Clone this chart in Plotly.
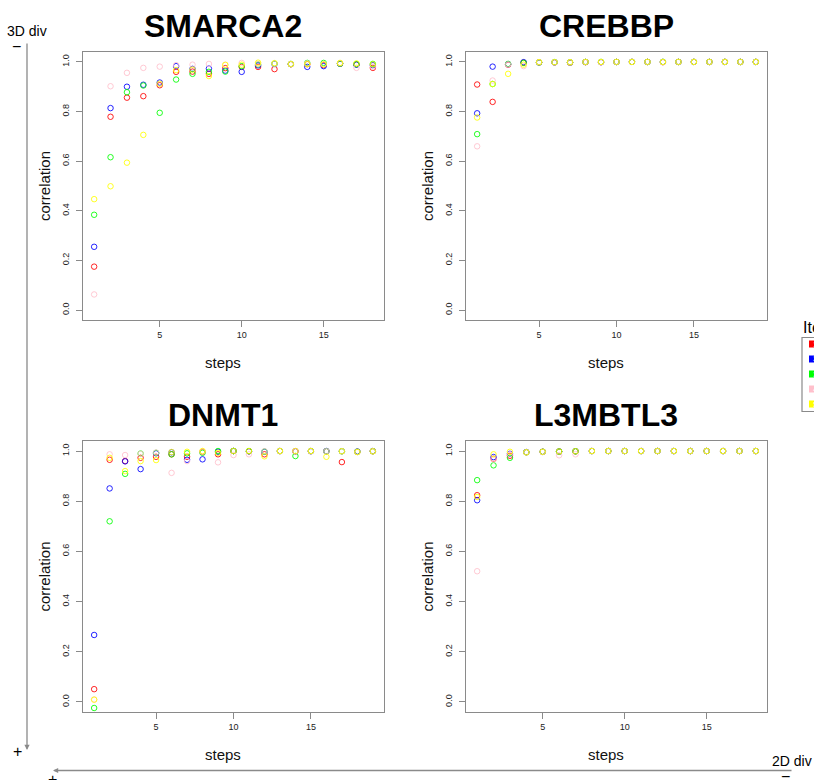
import plotly.graph_objects as go

W, H = 814, 780

genes = ["SMARCA2", "CREBBP", "DNMT1", "L3MBTL3"]
iterations = ["1", "2", "3", "4", "5"]
colors = ["#FF0000", "#0000FF", "#00FF00", "#FFC0CB", "#FFFF00"]

steps_smarca2 = list(range(1, 19))
steps_crebbp = list(range(1, 20))
steps_dnmt1 = list(range(1, 20))
steps_l3mbtl3 = list(range(1, 19))

smarca2_it1 = [0.175, 0.779, 0.856, 0.862, 0.906, 0.960, 0.961, 0.952, 0.975, 0.980, 0.980, 0.971, 0.991, 0.991, 0.987, 0.993, 0.990, 0.976]
smarca2_it2 = [0.255, 0.814, 0.900, 0.908, 0.917, 0.983, 0.972, 0.973, 0.965, 0.960, 0.986, 0.992, 0.991, 0.980, 0.983, 0.993, 0.989, 0.987]
smarca2_it3 = [0.384, 0.616, 0.878, 0.905, 0.795, 0.929, 0.952, 0.960, 0.961, 0.983, 0.990, 0.993, 0.992, 0.996, 0.996, 0.993, 0.991, 0.992]
smarca2_it4 = [0.063, 0.902, 0.956, 0.976, 0.981, 0.987, 0.989, 0.992, 0.989, 0.996, 0.992, 0.993, 0.992, 0.994, 0.991, 0.995, 0.976, 0.981]
smarca2_it5 = [0.447, 0.499, 0.594, 0.706, 0.912, 0.967, 0.969, 0.943, 0.988, 0.989, 0.997, 0.995, 0.991, 0.991, 0.990, 0.996, 0.994, 0.990]

crebbp_it1 = [0.909, 0.839, 0.989, 0.997, 0.998, 0.998, 0.997, 0.999, 0.999, 1.000, 1.000, 1.000, 0.999, 1.000, 1.000, 1.000, 1.000, 1.000, 1.000]
crebbp_it2 = [0.793, 0.981, 0.991, 0.999, 0.998, 0.998, 0.998, 1.000, 0.999, 1.000, 1.000, 1.000, 1.000, 1.000, 1.000, 1.000, 1.000, 1.000, 1.000]
crebbp_it3 = [0.709, 0.911, 0.992, 0.996, 0.998, 0.999, 0.998, 1.000, 1.000, 1.000, 1.000, 1.000, 1.000, 1.000, 1.000, 1.000, 1.000, 1.000, 1.000]
crebbp_it4 = [0.660, 0.925, 0.990, 0.983, 0.999, 0.998, 0.998, 1.000, 0.999, 1.000, 1.000, 1.000, 0.999, 1.000, 1.000, 1.000, 1.000, 1.000, 1.000]
crebbp_it5 = [0.776, 0.911, 0.952, 0.989, 0.999, 0.999, 0.999, 1.000, 1.000, 1.000, 1.000, 1.000, 1.000, 1.000, 1.000, 1.000, 1.000, 1.000, 1.000]

dnmt1_it1 = [0.051, 0.965, 0.960, 0.973, 0.977, 0.987, 0.977, 0.997, 0.987, 1.000, 0.999, 0.987, 1.000, 0.999, 1.000, 0.999, 0.956, 0.997, 0.999]
dnmt1_it2 = [0.267, 0.851, 0.959, 0.928, 0.991, 0.995, 0.965, 0.967, 0.997, 1.000, 0.999, 0.997, 1.000, 0.999, 0.999, 1.000, 0.999, 0.998, 1.000]
dnmt1_it3 = [-0.024, 0.720, 0.909, 0.990, 0.993, 0.987, 0.991, 0.993, 1.000, 1.000, 1.000, 0.998, 1.000, 0.980, 1.000, 0.999, 0.999, 0.997, 0.999]
dnmt1_it4 = [0.010, 0.987, 0.984, 0.989, 0.994, 0.913, 0.960, 0.998, 0.955, 0.984, 0.987, 0.999, 1.000, 0.999, 0.999, 0.999, 0.999, 0.996, 0.999]
dnmt1_it5 = [0.009, 0.973, 0.920, 0.960, 0.964, 0.996, 0.997, 1.000, 0.993, 1.000, 1.000, 0.979, 1.000, 1.000, 1.000, 0.977, 0.999, 0.996, 0.999]

l3mbtl3_it1 = [0.824, 0.969, 0.981, 0.995, 0.997, 0.998, 0.999, 1.000, 1.000, 1.000, 1.000, 1.000, 1.000, 1.000, 1.000, 1.000, 1.000, 1.000]
l3mbtl3_it2 = [0.804, 0.976, 0.989, 0.996, 0.997, 0.998, 0.999, 1.000, 1.000, 1.000, 1.000, 1.000, 1.000, 1.000, 1.000, 1.000, 1.000, 1.000]
l3mbtl3_it3 = [0.884, 0.943, 0.973, 0.995, 0.997, 0.998, 0.999, 1.000, 1.000, 1.000, 1.000, 1.000, 1.000, 1.000, 1.000, 1.000, 1.000, 1.000]
l3mbtl3_it4 = [0.521, 0.967, 0.987, 0.995, 0.996, 0.983, 0.987, 1.000, 1.000, 1.000, 1.000, 1.000, 1.000, 1.000, 1.000, 1.000, 1.000, 1.000]
l3mbtl3_it5 = [0.817, 0.987, 0.997, 0.995, 0.997, 0.998, 0.999, 1.000, 1.000, 1.000, 1.000, 1.000, 1.000, 1.000, 1.000, 1.000, 1.000, 1.000]

y_ticks = [0.0, 0.2, 0.4, 0.6, 0.8, 1.0]
x_ticks = [5, 10, 15]

panels = [
    (steps_smarca2, [smarca2_it1, smarca2_it2, smarca2_it3, smarca2_it4, smarca2_it5]),
    (steps_crebbp, [crebbp_it1, crebbp_it2, crebbp_it3, crebbp_it4, crebbp_it5]),
    (steps_dnmt1, [dnmt1_it1, dnmt1_it2, dnmt1_it3, dnmt1_it4, dnmt1_it5]),
    (steps_l3mbtl3, [l3mbtl3_it1, l3mbtl3_it2, l3mbtl3_it3, l3mbtl3_it4, l3mbtl3_it5]),
]

# panel boxes in pixels: (left, right, top, bottom)
boxes = [(83, 384, 52, 320), (466, 767, 52, 320), (83, 384, 441, 712), (466, 767, 441, 712)]
title_cx = [223, 606, 223, 606]

def px(x):
    return x / W

def py(y):
    return 1 - y / H

fig = go.Figure()
layout = dict(
    width=W, height=H, autosize=False,
    margin=dict(l=0, r=0, t=0, b=0),
    paper_bgcolor="white", plot_bgcolor="white",
    showlegend=False,
    font=dict(family="Liberation Sans, Arial, sans-serif", color="#222222"),
)
annotations = []
shapes = []
AXC = "#8a8a8a"

for i, ((steps, series), (l, r, t, b)) in enumerate(zip(panels, boxes)):
    xa = "x" if i == 0 else f"x{i+1}"
    ya = "y" if i == 0 else f"y{i+1}"
    pad = (steps[-1] - steps[0]) * 0.04
    for it, col, vals in zip(iterations, colors, series):
        fig.add_trace(go.Scatter(
            x=steps, y=vals, mode="markers", name=it, xaxis=xa, yaxis=ya,
            marker=dict(symbol="circle-open", size=5.5, color=col, opacity=0.85,
                        line=dict(width=1, color=col)),
            cliponaxis=True,
        ))
    common = dict(showgrid=False, zeroline=False, showline=True, mirror=True,
                  linecolor=AXC, linewidth=1.3, ticks="outside", ticklen=6,
                  tickcolor=AXC, tickwidth=1.3,
                  tickfont=dict(size=9, color="#222222"))
    layout["xaxis" if i == 0 else f"xaxis{i+1}"] = dict(
        common, domain=[px(l), px(r)], anchor=ya,
        range=[steps[0] - pad, steps[-1] + pad],
        tickmode="array", tickvals=x_ticks, ticktext=[str(v) for v in x_ticks])
    layout["yaxis" if i == 0 else f"yaxis{i+1}"] = dict(
        common, domain=[py(b), py(t)], anchor=xa,
        range=[-0.04, 1.04], tickangle=-90, ticklabelstandoff=3,
        tickmode="array", tickvals=y_ticks, ticktext=[f"{v:.1f}" for v in y_ticks])
    cx = title_cx[i]
    annotations.append(dict(text=f"<b>{genes[i]}</b>", x=px(cx), y=py(t - 26), xref="paper", yref="paper",
                            showarrow=False, font=dict(size=32, color="black"), xanchor="center", yanchor="middle"))
    annotations.append(dict(text="steps", x=px(cx), y=py(b + 42), xref="paper", yref="paper",
                            showarrow=False, font=dict(size=15, color="#111111"), xanchor="center", yanchor="middle"))
    annotations.append(dict(text="correlation", x=px(l - 39), y=py((t + b) / 2), xref="paper", yref="paper",
                            showarrow=False, textangle=-90, font=dict(size=15, color="#111111"),
                            xanchor="center", yanchor="middle"))

# direction arrows
annotations.append(dict(x=px(27), y=py(750), xref="paper", yref="paper", ax=0, ay=-708,
                        showarrow=True, arrowhead=2, arrowsize=0.8, arrowwidth=1.3, arrowcolor=AXC, text=""))
annotations.append(dict(x=px(53), y=py(770.5), xref="paper", yref="paper", ax=740, ay=0,
                        showarrow=True, arrowhead=2, arrowsize=0.8, arrowwidth=1.3, arrowcolor=AXC, text=""))
for txt, x, y, s, anc in [("3D div", 27, 31, 14, "center"), ("\u2212", 16, 46, 16, "center"),
                          ("+", 17, 751, 16, "center"), ("2D div", 814, 761, 14, "right"),
                          ("\u2212", 785, 776, 16, "center"), ("+", 52, 779, 16, "center")]:
    annotations.append(dict(text=txt, x=px(x), y=py(y), xref="paper", yref="paper", showarrow=False,
                            font=dict(size=s, color="black"), xanchor=anc, yanchor="middle"))

# legend (partially outside the page, as in the original)
annotations.append(dict(text="Iteration", x=px(801), y=py(327), xref="paper", yref="paper", showarrow=False,
                        font=dict(size=16, color="black"), xanchor="left", yanchor="middle"))
shapes.append(dict(type="rect", xref="paper", yref="paper", x0=px(802), x1=px(840), y0=py(411.5), y1=py(337.5),
                   line=dict(color=AXC, width=1.2), fillcolor="rgba(0,0,0,0)"))
for k, (it, col) in enumerate(zip(iterations, colors)):
    yc = 344 + 15 * k
    shapes.append(dict(type="rect", xref="paper", yref="paper", x0=px(809), x1=px(817), y0=py(yc + 3.5), y1=py(yc - 3.5),
                       line=dict(width=0), fillcolor=col))
    annotations.append(dict(text=it, x=px(811), y=py(yc), xref="paper", yref="paper", showarrow=False,
                            font=dict(size=8, color="rgba(255,255,255,0.8)"), xanchor="left", yanchor="middle"))

layout["annotations"] = annotations
layout["shapes"] = shapes
fig.update_layout(**layout)
fig.write_html("out.html", config={"displayModeBar": False},
               post_script="document.body.style.margin='0';document.body.style.overflow='hidden';")
